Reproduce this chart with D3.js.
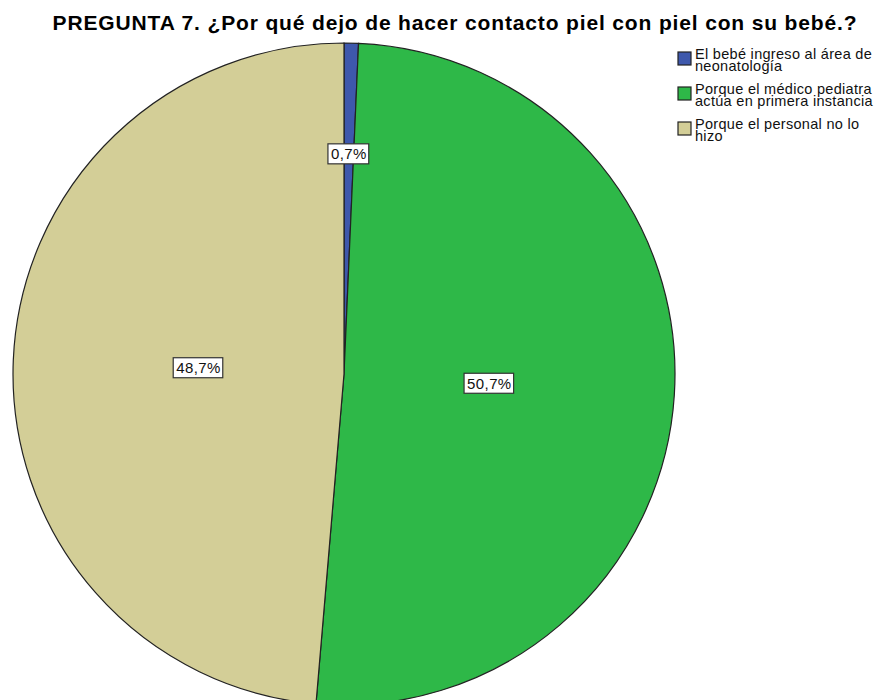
<!DOCTYPE html>
<html>
<head>
<meta charset="utf-8">
<script src="https://cdn.jsdelivr.net/npm/d3@7"></script>
<style>
  body { margin: 0; background: #fff; }
  text { font-family: Arial, "Liberation Sans", sans-serif; }
</style>
</head>
<body>
<div id="chart"></div>
<script>
// data
var categories = [
  "El bebé ingreso al área de neonatología",
  "Porque el médico pediatra actúa en primera instancia",
  "Porque el personal no lo hizo"
];
var legendLines = [
  ["El bebé ingreso al área de", "neonatología"],
  ["Porque el médico pediatra", "actúa en primera instancia"],
  ["Porque el personal no lo", "hizo"]
];
var percents = [0.7, 50.7, 48.7];
var percentLabels = ["0,7%", "50,7%", "48,7%"];

var width = 881, height = 700;
var cx = 344, cy = 374, radius = 331;

var color = d3.scaleOrdinal()
    .domain(categories)
    .range(["#3e58ac", "#2eb848", "#d3ce97"]);

var svg = d3.select("#chart").append("svg")
    .attr("width", width)
    .attr("height", height);

svg.append("text")
    .attr("x", 455)
    .attr("y", 30)
    .attr("text-anchor", "middle")
    .style("font-size", "21px")
    .style("font-weight", "bold")
    .style("letter-spacing", "0.85px")
    .text("PREGUNTA 7. ¿Por qué dejo de hacer contacto piel con piel con su bebé.?");

var pie = d3.pie().sort(null).value(function(d) { return d.value; });
var arc = d3.arc().innerRadius(0).outerRadius(radius);

var data = categories.map(function(c, i) {
  return {name: c, value: percents[i], label: percentLabels[i]};
});

var g = svg.append("g")
    .attr("transform", "translate(" + cx + "," + cy + ")");

var arcs = pie(data);

g.selectAll(".slice")
    .data(arcs)
    .enter().append("path")
    .attr("class", "slice")
    .attr("d", arc)
    .attr("fill", function(d) { return color(d.data.name); })
    .attr("stroke", "#222")
    .attr("stroke-width", 1.2);

// labels on top of all slices - small slices sit further out
var labels = g.selectAll(".label")
    .data(arcs)
    .enter().append("g")
    .attr("class", "label")
    .attr("transform", function(d) {
      var r = d.data.value < 5 ? radius * 0.665 : radius * 0.44;
      var a = (d.startAngle + d.endAngle) / 2;
      return "translate(" + (Math.sin(a) * r) + "," + (-Math.cos(a) * r) + ")";
    });

labels.each(function(d) {
  var grp = d3.select(this);
  var t = grp.append("text")
      .attr("text-anchor", "middle")
      .attr("dy", "0.36em")
      .style("font-size", "15px")
      .style("letter-spacing", "0.4px")
      .attr("fill", "#111")
      .text(d.data.label);
  var bb = t.node().getBBox();
  grp.insert("rect", "text")
      .attr("x", bb.x - 3)
      .attr("y", bb.y - 1.5)
      .attr("width", bb.width + 5)
      .attr("height", bb.height + 3)
      .attr("fill", "#fff")
      .attr("stroke", "#333")
      .attr("stroke-width", 1.2);
});

// legend
var legendTop = [52, 87, 122];
var legend = svg.selectAll(".legend")
    .data(categories)
    .enter().append("g")
    .attr("class", "legend")
    .attr("transform", function(d, i) { return "translate(678," + legendTop[i] + ")"; });

legend.append("rect")
    .attr("width", 13)
    .attr("height", 13)
    .attr("fill", function(d) { return color(d); })
    .attr("stroke", "#222")
    .attr("stroke-width", 1.2);

legend.each(function(d, i) {
  var t = d3.select(this).append("text")
      .style("font-size", "14.5px")
      .style("letter-spacing", "0.3px")
      .attr("fill", "#111");
  legendLines[i].forEach(function(line, j) {
    t.append("tspan")
        .attr("x", 17)
        .attr("y", 7 + j * 11.5)
        .text(line);
  });
});
</script>
</body>
</html>
